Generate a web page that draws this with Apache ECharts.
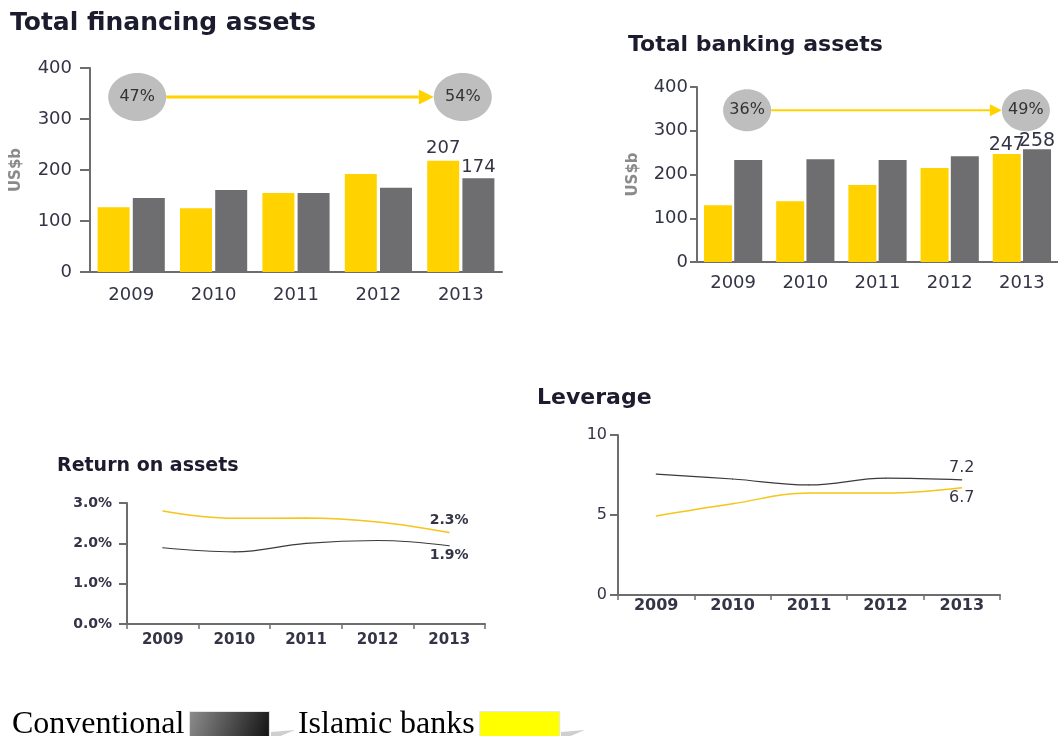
<!DOCTYPE html>
<html>
<head>
<meta charset="utf-8">
<script src="https://cdn.jsdelivr.net/npm/echarts@6/dist/echarts.min.js"></script>
<style>
  html, body { margin: 0; padding: 0; background: #fff; }
  #main { width: 1058px; height: 736px; }
</style>
</head>
<body>
<div id="main"></div>
<script>
// data
const years = ['2009', '2010', '2011', '2012', '2013']

// Total financing assets, US$b (bar heights as drawn)
const financingIslamic = [127, 125, 155, 192, 218]
const financingConventional = [145, 161, 155, 165, 184]
const financingLabelIslamic = '207'     // printed over the 2013 bars
const financingLabelConventional = '174'
const financingShare = ['47%', '54%']

// Total banking assets, US$b
const bankingIslamic = [130, 139, 176, 215, 247]
const bankingConventional = [233, 235, 233, 242, 258]
const bankingShare = ['36%', '49%']

// Return on assets, %
const roaIslamic = [2.8, 2.62, 2.63, 2.53, 2.27]
const roaConventional = [1.89, 1.79, 2.0, 2.07, 1.94]

// Leverage
const levIslamic = [4.94, 5.7, 6.38, 6.37, 6.7]
const levConventional = [7.56, 7.25, 6.88, 7.3, 7.2]

// axis ticks
const assetTicks = { min: 0, max: 400, interval: 100 }
const roaTicks = { min: 0, max: 3, interval: 1 }
const levTicks = { min: 0, max: 10, interval: 5 }

const YELLOW = '#FFD200'
const GREY = '#6E6E70'
const LINE_YELLOW = '#F5C518'
const LINE_GREY = '#3a3a3a'
const AXIS = '#6d6d6d'
const TXT = '#343447'
const FONT = 'DejaVu Sans'

const chart = echarts.init(document.getElementById('main'))

function yAxis (grid, ticks, opts) {
  return {
    gridIndex: grid,
    type: 'value',
    min: ticks.min,
    max: ticks.max,
    interval: ticks.interval,
    axisLine: { show: true, lineStyle: { color: AXIS, width: 2 } },
    axisTick: { show: true, length: opts.tick, lineStyle: { color: AXIS, width: 2 } },
    splitLine: { show: false },
    axisLabel: {
      fontSize: opts.size,
      fontWeight: opts.weight || 'normal',
      color: TXT,
      margin: opts.margin,
      formatter: opts.formatter
    },
    name: opts.name || '',
    nameLocation: 'middle',
    nameRotate: 90,
    nameGap: opts.nameGap || 0,
    nameTextStyle: { color: '#8a8a8a', fontSize: 15, fontWeight: 'bold' }
  }
}

function xAxis (grid, opts) {
  return {
    gridIndex: grid,
    type: 'category',
    data: years,
    axisLine: { show: true, lineStyle: { color: AXIS, width: 2 } },
    axisTick: { show: opts.tick > 0, length: opts.tick, lineStyle: { color: AXIS, width: 1.5 } },
    axisLabel: { fontSize: opts.size, fontWeight: opts.weight || 'normal', color: TXT, margin: opts.margin }
  }
}

function lastOnly (fmt) {
  return function (p) {
    return p.dataIndex === years.length - 1 ? fmt(p.value) : ''
  }
}

const option = {
  animation: false,
  textStyle: { fontFamily: FONT },
  title: [
    { text: 'Total financing assets', left: 10, top: 11, padding: 0, textStyle: { fontSize: 25, fontWeight: 'bold', color: '#1c1c2e' } },
    { text: 'Total banking assets', left: 628, top: 34, padding: 0, textStyle: { fontSize: 22, fontWeight: 'bold', color: '#1c1c2e' } },
    { text: 'Return on assets', left: 57, top: 457, padding: 0, textStyle: { fontSize: 19, fontWeight: 'bold', color: '#1c1c2e' } },
    { text: 'Leverage', left: 537, top: 387, padding: 0, textStyle: { fontSize: 22, fontWeight: 'bold', color: '#1c1c2e' } }
  ],
  legend: {
    left: 12,
    top: 709,
    padding: 0,
    align: 'right',
    icon: 'rect',
    itemWidth: 80,
    itemHeight: 27,
    itemGap: 28,
    selectedMode: false,
    textStyle: { fontFamily: 'Liberation Serif', fontSize: 32, color: '#000' },
    data: [
      {
        name: 'Conventional',
        itemStyle: {
          color: { type: 'linear', x: 0, y: 0, x2: 1, y2: 1, colorStops: [{ offset: 0, color: '#8e8e8e' }, { offset: 1, color: '#111' }] },
          borderColor: '#e6e6e6',
          borderWidth: 1
        }
      },
      { name: 'Islamic banks', itemStyle: { color: '#FFFF00', borderColor: '#e6e6e6', borderWidth: 1 } }
    ]
  },
  grid: [
    { left: 90, top: 68, width: 412, height: 204 },
    { left: 697, top: 87, width: 363, height: 175 },
    { left: 127, top: 503, width: 358, height: 121 },
    { left: 618, top: 435, width: 382, height: 160 }
  ],
  xAxis: [
    xAxis(0, { tick: 0, size: 18, margin: 14 }),
    xAxis(1, { tick: 0, size: 18, margin: 12 }),
    xAxis(2, { tick: 5, size: 15, weight: 'bold', margin: 9 }),
    xAxis(3, { tick: 5, size: 16, weight: 'bold', margin: 3 })
  ],
  yAxis: [
    yAxis(0, assetTicks, { tick: 10, size: 18, margin: 18, name: 'US$b', nameGap: 66 }),
    yAxis(1, assetTicks, { tick: 7, size: 18, margin: 9, name: 'US$b', nameGap: 56 }),
    yAxis(2, roaTicks, { tick: 8, size: 14, weight: 'bold', margin: 15, formatter: v => v.toFixed(1) + '%' }),
    yAxis(3, levTicks, { tick: 8, size: 16, margin: 11 })
  ],
  series: [
    {
      name: 'Islamic banks', type: 'bar', xAxisIndex: 0, yAxisIndex: 0,
      data: financingIslamic, barWidth: 32, barGap: '10%',
      itemStyle: { color: YELLOW },
      label: { show: true, position: 'top', distance: 3, fontSize: 18, color: TXT, formatter: lastOnly(() => financingLabelIslamic) }
    },
    {
      name: 'Conventional', type: 'bar', xAxisIndex: 0, yAxisIndex: 0,
      data: financingConventional, barWidth: 32, barGap: '10%',
      itemStyle: { color: GREY },
      label: { show: true, position: 'top', distance: 2, fontSize: 18, color: TXT, formatter: lastOnly(() => financingLabelConventional) }
    },
    {
      name: 'Islamic banks', type: 'bar', xAxisIndex: 1, yAxisIndex: 1,
      data: bankingIslamic, barWidth: 28, barGap: '8%',
      itemStyle: { color: YELLOW },
      label: { show: true, position: 'top', distance: -1, fontSize: 19, color: TXT, formatter: lastOnly(v => String(v)) }
    },
    {
      name: 'Conventional', type: 'bar', xAxisIndex: 1, yAxisIndex: 1,
      data: bankingConventional, barWidth: 28, barGap: '8%',
      itemStyle: { color: GREY },
      label: { show: true, position: 'top', distance: -1, fontSize: 19, color: TXT, formatter: lastOnly(v => String(v)) }
    },
    {
      name: 'Islamic banks', type: 'line', xAxisIndex: 2, yAxisIndex: 2,
      data: roaIslamic, smooth: 0.4, symbol: 'circle', symbolSize: 1,
      lineStyle: { color: LINE_YELLOW, width: 1.5 }, itemStyle: { color: LINE_YELLOW },
      label: { show: true, position: 'top', distance: 5, fontSize: 14, fontWeight: 'bold', color: TXT, formatter: lastOnly(v => v.toFixed(1) + '%') }
    },
    {
      name: 'Conventional', type: 'line', xAxisIndex: 2, yAxisIndex: 2,
      data: roaConventional, smooth: 0.4, symbol: 'circle', symbolSize: 1,
      lineStyle: { color: LINE_GREY, width: 1.2 }, itemStyle: { color: LINE_GREY },
      label: { show: true, position: 'bottom', distance: 2, fontSize: 14, fontWeight: 'bold', color: TXT, formatter: lastOnly(v => v.toFixed(1) + '%') }
    },
    {
      name: 'Islamic banks', type: 'line', xAxisIndex: 3, yAxisIndex: 3,
      data: levIslamic, smooth: 0.4, symbol: 'circle', symbolSize: 1,
      lineStyle: { color: LINE_YELLOW, width: 1.5 }, itemStyle: { color: LINE_YELLOW },
      label: { show: true, position: 'bottom', distance: 2, fontSize: 16, color: TXT, formatter: lastOnly(v => v.toFixed(1)) }
    },
    {
      name: 'Conventional', type: 'line', xAxisIndex: 3, yAxisIndex: 3,
      data: levConventional, smooth: 0.4, symbol: 'circle', symbolSize: 1,
      lineStyle: { color: LINE_GREY, width: 1.2 }, itemStyle: { color: LINE_GREY },
      label: { show: true, position: 'top', distance: 3, fontSize: 16, color: TXT, formatter: lastOnly(v => v.toFixed(1)) }
    }
  ]
}

chart.setOption(option)

// share bubbles with the yellow arrow between 2009 and 2013
function shareArrow (grid, share, yVal, rx, ry, dx, lineW, head) {
  const a = chart.convertToPixel({ xAxisIndex: grid, yAxisIndex: grid }, [0, yVal])
  const b = chart.convertToPixel({ xAxisIndex: grid, yAxisIndex: grid }, [years.length - 1, yVal])
  const x0 = a[0] + dx[0]
  const x1 = b[0] + dx[1]
  const y = a[1]
  const tip = x1 - rx
  return [
    { type: 'line', shape: { x1: x0 + rx, y1: y, x2: tip - head, y2: y }, style: { stroke: YELLOW, lineWidth: lineW }, z: 10 },
    { type: 'polygon', shape: { points: [[tip - head, y - head / 2], [tip, y], [tip - head, y + head / 2]] }, style: { fill: YELLOW }, z: 10 },
    { type: 'ellipse', shape: { cx: x0, cy: y, rx: rx, ry: ry }, style: { fill: '#BEBEBE' }, z: 9 },
    { type: 'ellipse', shape: { cx: x1, cy: y, rx: rx, ry: ry }, style: { fill: '#BEBEBE' }, z: 9 },
    { type: 'text', x: x0, y: y, style: { text: share[0], font: '16px "DejaVu Sans"', fill: '#333', align: 'center', verticalAlign: 'middle' }, z: 11 },
    { type: 'text', x: x1, y: y, style: { text: share[1], font: '16px "DejaVu Sans"', fill: '#333', align: 'center', verticalAlign: 'middle' }, z: 11 }
  ]
}

const legendShadow = [
  { type: 'polygon', shape: { points: [[271, 732], [295, 730], [271, 740]] }, style: { fill: '#cfcfcf' } },
  { type: 'polygon', shape: { points: [[561, 732], [585, 730], [561, 740]] }, style: { fill: '#cfcfcf' } }
]

chart.setOption({
  graphic: [].concat(
    shareArrow(0, financingShare, 343, 29, 24, [6, 2], 3, 15),
    shareArrow(1, bankingShare, 347, 24, 21, [14, 4], 2, 12),
    legendShadow
  )
})
</script>
</body>
</html>
